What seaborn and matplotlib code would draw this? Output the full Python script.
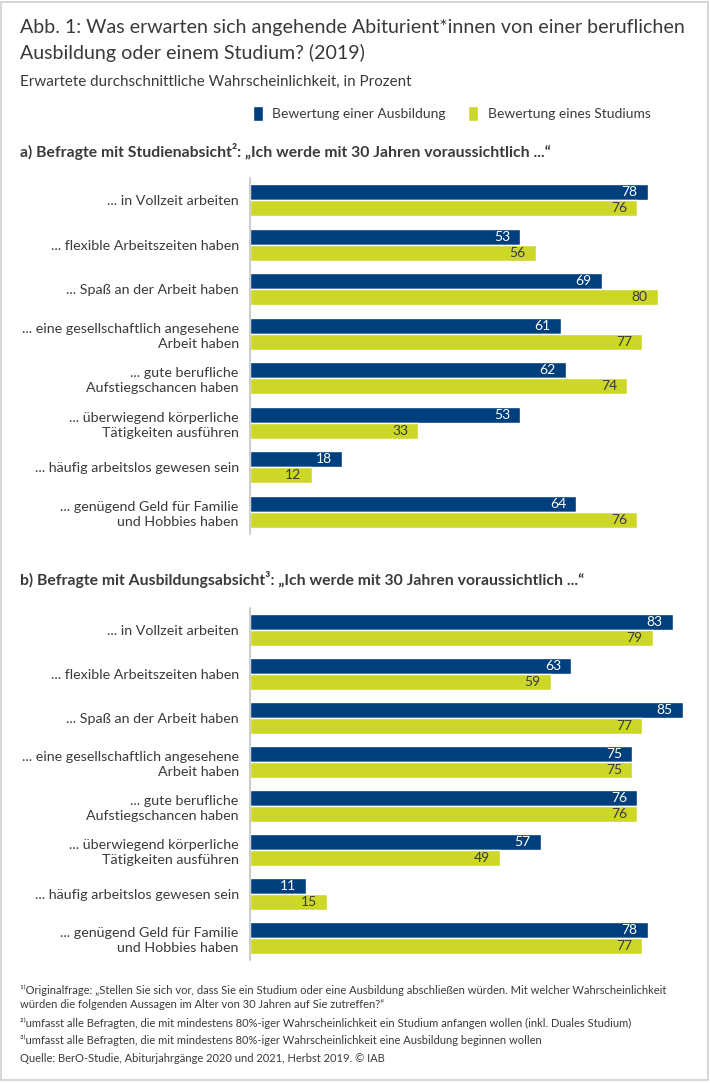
import matplotlib
matplotlib.use("Agg")
import matplotlib.pyplot as plt
from matplotlib.patches import Rectangle
import pandas as pd
import seaborn as sns

W, H = 710, 1083
categories = ["... in Vollzeit arbeiten", "... flexible Arbeitszeiten haben", "... Spaß an der Arbeit haben",
              "... eine gesellschaftlich angesehene\nArbeit haben", "... gute berufliche\nAufstiegschancen haben",
              "... überwiegend körperliche\nTätigkeiten ausführen", "... häufig arbeitslos gewesen sein",
              "... genügend Geld für Familie\nund Hobbies haben"]
series = ["Bewertung einer Ausbildung", "Bewertung eines Studiums"]
a_ausbildung = [78, 53, 69, 61, 62, 53, 18, 64]
a_studium = [76, 56, 80, 77, 74, 33, 12, 76]
b_ausbildung = [83, 63, 85, 75, 76, 57, 11, 78]
b_studium = [79, 59, 77, 75, 76, 49, 15, 77]
colors = ["#003f7d", "#cdd728"]
TEXT = "#3a3a3a"

sns.set_theme(style="white")
plt.rcParams["font.family"] = ["Lato", "DejaVu Sans"]
fig = plt.figure(figsize=(W / 100, H / 100), dpi=100, facecolor="white")
fig.add_artist(Rectangle((1.5 / W, 1 - 1079.5 / H), 706 / W, 1078 / H, transform=fig.transFigure,
                         fill=False, ec="#cfcfcf", lw=1.2))


def txt(x, y, s, size, weight="normal", color=TEXT):
    fig.text(x / W, 1 - y / H, s, fontsize=size, fontweight=weight, color=color, ha="left", va="center")


def panel(top, bottom, ausbildung, studium):
    df = pd.DataFrame({
        "Kategorie": categories * 2,
        "Reihe": [series[0]] * 8 + [series[1]] * 8,
        "Wert": ausbildung + studium,
    })
    ax = fig.add_axes([250.5 / W, 1 - bottom / H, 439.5 / W, (bottom - top) / H])
    sns.barplot(data=df, y="Kategorie", x="Wert", hue="Reihe", hue_order=series, order=categories,
                palette=colors, width=0.71, saturation=1, gap=0, ax=ax, legend=True, orient="h")
    ax.set_xlim(0, 439.5 / 5.09)
    ax.set_ylim(7.5, -0.5)
    ax.set_xlabel("")
    ax.set_ylabel("")
    ax.xaxis.set_visible(False)
    ax.patch.set_alpha(0)
    sns.despine(ax=ax, top=True, right=True, bottom=True)
    ax.spines["left"].set_color("#c4c4c4")
    ax.spines["left"].set_linewidth(1.2)
    ax.tick_params(axis="y", length=0, pad=8.5, labelsize=10.3, labelcolor=TEXT)
    for t in ax.get_yticklabels():
        t.set_linespacing(1.3)
        t.set_ha("right")
        t.set_multialignment("right")
    ax.bar_label(ax.containers[0], padding=-19, color="white", fontsize=10)
    ax.bar_label(ax.containers[1], padding=-19, color=TEXT, fontsize=10)
    return ax


ax_a = panel(178, 534, a_ausbildung, a_studium)
ax_b = panel(608, 960, b_ausbildung, b_studium)

handles, labels = ax_a.get_legend_handles_labels()
ax_a.get_legend().remove()
ax_b.get_legend().remove()
fig.legend(handles, labels, ncols=2, loc="center left", bbox_to_anchor=(240 / W, 1 - 113.5 / H),
           frameon=False, fontsize=10, handlelength=0.72, handleheight=1.3, handletextpad=0.72,
           columnspacing=1.58, labelcolor=TEXT, borderpad=0.4)

txt(20, 28, "Abb. 1: Was erwarten sich angehende Abiturient*innen von einer beruflichen", 14.1)
txt(20, 53, "Ausbildung oder einem Studium? (2019)", 14.1)
txt(20, 82, "Erwartete durchschnittliche Wahrscheinlichkeit, in Prozent", 10.9)
txt(20, 152, "a) Befragte mit Studienabsicht²: „Ich werde mit 30 Jahren voraussichtlich ...“", 11.3, "bold")
txt(20, 579, "b) Befragte mit Ausbildungsabsicht³: „Ich werde mit 30 Jahren voraussichtlich ...“", 11.3, "bold")

txt(20, 990, "¹⁾Originalfrage: „Stellen Sie sich vor, dass Sie ein Studium oder eine Ausbildung abschließen würden. Mit welcher Wahrscheinlichkeit", 8.05)
txt(20, 1005, "würden die folgenden Aussagen im Alter von 30 Jahren auf Sie zutreffen?“", 8.05)
txt(20, 1023, "²⁾umfasst alle Befragten, die mit mindestens 80%-iger Wahrscheinlichkeit ein Studium anfangen wollen (inkl. Duales Studium)", 8.05)
txt(20, 1040, "³⁾umfasst alle Befragten, die mit mindestens 80%-iger Wahrscheinlichkeit eine Ausbildung beginnen wollen", 8.05)
txt(20, 1058, "Quelle: BerO-Studie, Abiturjahrgänge 2020 und 2021, Herbst 2019. © IAB", 8.05)

fig.savefig("out.png", dpi=100, facecolor="white")
